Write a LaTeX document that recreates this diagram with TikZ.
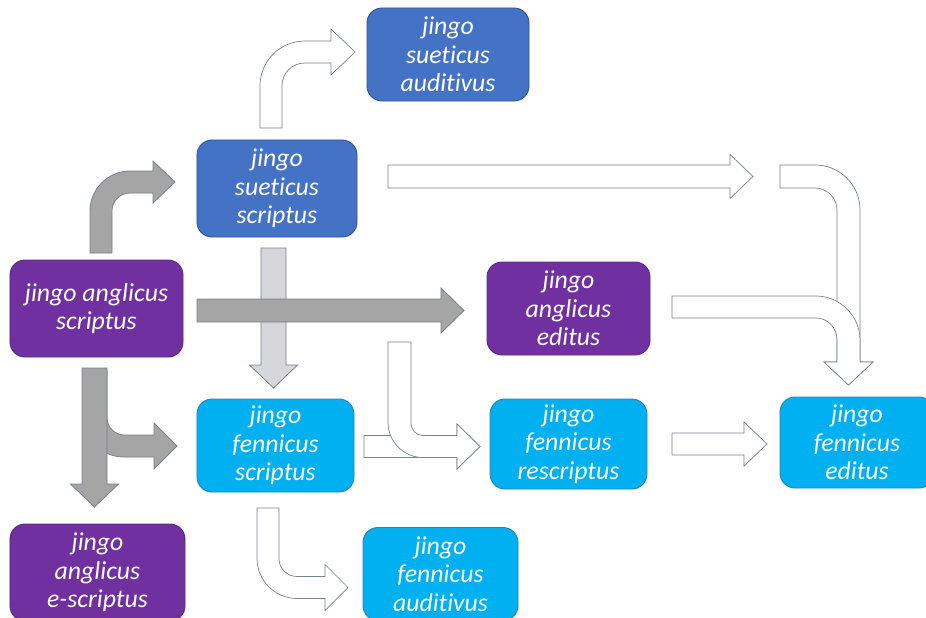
\documentclass[tikz,border=0pt]{standalone}
\usepackage{fontspec}
\setmainfont{Carlito}[Ligatures=NoCommon]
\usepackage{xcolor}
\usepackage{tikz}
\usetikzlibrary{calc}

\definecolor{jpurple}{HTML}{7030A0}
\definecolor{jpurpleedge}{HTML}{5B2A82}
\definecolor{jblue}{HTML}{4472C4}
\definecolor{jblueedge}{HTML}{2F5597}
\definecolor{jcyan}{HTML}{00B0F0}
\definecolor{jcyanedge}{HTML}{2585B8}
\definecolor{agrey}{HTML}{A5A5A5}
\definecolor{alight}{HTML}{D6D6DB}
\definecolor{aedge}{HTML}{76828F}

\tikzset{
  jbox/.style={rectangle,rounded corners=0.45cm,align=center,inner sep=0pt,
    line width=0.8pt,text=white,font=\fontsize{22}{24.2}\selectfont\itshape},
  purplebox/.style={jbox,fill=jpurple,draw=jpurpleedge},
  bluebox/.style={jbox,fill=jblue,draw=jblueedge},
  cyanbox/.style={jbox,fill=jcyan,draw=jcyanedge},
  greyarrow/.style={fill=agrey,draw=aedge,line width=0.7pt},
  lightarrow/.style={fill=alight,draw=aedge,line width=0.7pt},
  whitearrow/.style={fill=white,draw=aedge,line width=0.6pt},
}

% straight block arrows: style, start, tip, centre line, shaft half, head half
\newcommand{\rightblock}[6]{%
  \draw[#1] (#2,#4-#5) -- (#3-23,#4-#5) -- (#3-23,#4-#6) -- (#3,#4)
    -- (#3-23,#4+#6) -- (#3-23,#4+#5) -- (#2,#4+#5) -- cycle;}
\newcommand{\downblock}[6]{%
  \draw[#1] (#4-#5,#2) -- (#4-#5,#3-23) -- (#4-#6,#3-23) -- (#4,#3)
    -- (#4+#6,#3-23) -- (#4+#5,#3-23) -- (#4+#5,#2) -- cycle;}

\begin{document}
\begin{tikzpicture}[x=0.03cm,y=-0.03cm]
  \useasboundingbox (0,0) rectangle (926,618);

  \node[bluebox,minimum width=4.86cm,minimum height=2.79cm] (sa) at (448,54.5) {jingo\\sueticus\\auditivus};
  \node[bluebox,minimum width=4.8cm,minimum height=2.91cm] (ss) at (277,188.5) {jingo\\sueticus\\scriptus};
  \node[purplebox,minimum width=5.19cm,minimum height=2.91cm] (as) at (96.5,308.5) {jingo anglicus\\scriptus};
  \node[purplebox,minimum width=4.89cm,minimum height=2.79cm] (ae) at (568.5,308.5) {jingo\\anglicus\\editus};
  \node[cyanbox,minimum width=4.71cm,minimum height=2.79cm] (fs) at (275.5,445.5) {jingo\\fennicus\\scriptus};
  \node[cyanbox,minimum width=4.71cm,minimum height=2.7cm] (fr) at (568.5,444) {jingo\\fennicus\\rescriptus};
  \node[cyanbox,minimum width=4.62cm,minimum height=2.73cm] (fe) at (857,442.5) {jingo\\fennicus\\editus};
  \node[cyanbox,minimum width=4.65cm,minimum height=2.79cm] (fa) at (440.5,574) {jingo\\fennicus\\auditivus};
  \node[purplebox,minimum width=5.25cm,minimum height=2.91cm] (aes) at (97.5,572.5) {jingo\\anglicus\\e-scriptus};

  % anglicus scriptus -> sueticus scriptus
  \draw[greyarrow] (90,253) -- (90,211) .. controls (90,189) and (108,171) .. (130,171) -- (153,171)
    -- (153,161) -- (175,182) -- (153,203) -- (153,193) -- (130,193)
    .. controls (120,193) and (112,201) .. (112,211) -- (112,253) -- cycle;
  % sueticus scriptus -> sueticus auditivus
  \draw[whitearrow] (260,128) -- (260,86) .. controls (260,61) and (280,41) .. (305,41) -- (331,41)
    -- (331,29) -- (355,52) -- (331,75) -- (331,63) -- (305,63)
    .. controls (292,63) and (282,73) .. (282,86) -- (282,128) -- cycle;

  \rightblock{whitearrow}{388}{753}{176.5}{11.5}{22}
  \draw[whitearrow] (780,165) -- (815,165) .. controls (840,165) and (860,185) .. (860,210) -- (860,362)
    -- (873,362) -- (848.5,385) -- (824,362) -- (837,362) -- (837,210)
    .. controls (837,198) and (827,188) .. (815,188) -- (780,188) -- cycle;
  \draw[whitearrow] (672,296) -- (816,296) .. controls (840,296) and (860,316) .. (860,340) -- (860,362)
    -- (873,362) -- (848.5,385) -- (824,362) -- (837,362) -- (837,340)
    .. controls (837,328) and (828,318) .. (816,318) -- (672,318) -- cycle;

  \downblock{lightarrow}{248}{388}{273.5}{12.5}{24}
  \rightblock{greyarrow}{197}{464}{310.5}{11.5}{22.5}

  % anglicus scriptus -> fennicus scriptus / e-scriptus
  \draw[greyarrow] (85,370) -- (85,418) .. controls (85,440) and (102,457) .. (124,457) -- (154,457)
    -- (154,469) -- (177,446) -- (154,423) -- (154,435) -- (124,435)
    .. controls (115,435) and (107,427) .. (107,418) -- (107,370) -- cycle;
  \downblock{greyarrow}{368}{507}{94.5}{12.5}{24}

  % into fennicus rescriptus
  \rightblock{whitearrow}{364}{480}{446.5}{11}{22.5}
  \draw[whitearrow] (388,342) -- (388,422.5) .. controls (388,442) and (404,457.5) .. (423,457.5) -- (457,457.5)
    -- (457,469) -- (480,446.5) -- (457,424) -- (457,435.5) -- (423,435.5)
    .. controls (416,435.5) and (411,430) .. (411,422.5) -- (411,342) -- cycle;

  \rightblock{whitearrow}{672}{767}{444}{11}{22}
  % fennicus scriptus -> fennicus auditivus
  \draw[whitearrow] (257,508) -- (257,558.5) .. controls (257,580.5) and (275,598.5) .. (297,598.5) -- (325,598.5)
    -- (325,610.5) -- (348,587.5) -- (325,564.5) -- (325,576.5) -- (297,576.5)
    .. controls (287,576.5) and (279,568.5) .. (279,558.5) -- (279,508) -- cycle;
\end{tikzpicture}
\end{document}
